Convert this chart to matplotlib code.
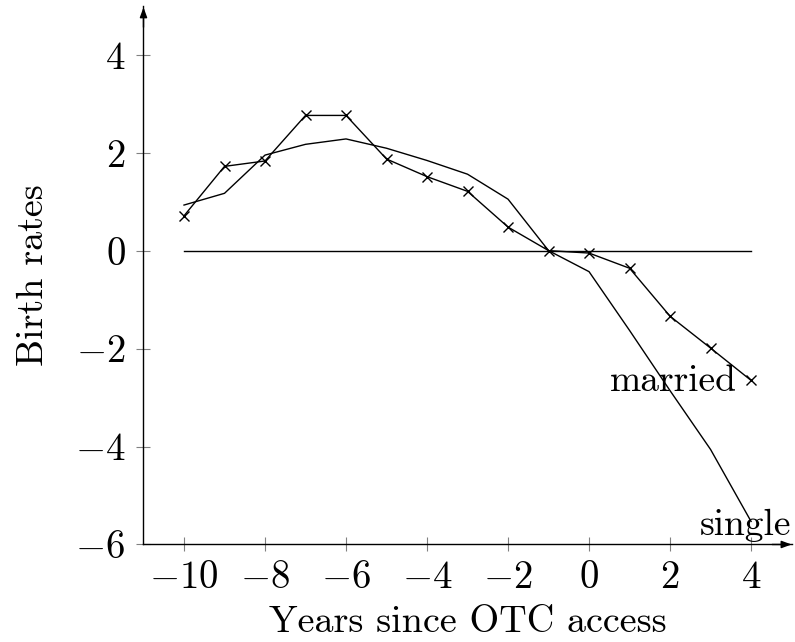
import matplotlib
matplotlib.use("Agg")
import matplotlib.pyplot as plt

plt.rcParams['font.family'] = 'serif'
plt.rcParams['font.serif'] = ['cmr10']
plt.rcParams['mathtext.fontset'] = 'cm'
plt.rcParams['axes.formatter.use_mathtext'] = True

# values
years = [-10, -9, -8, -7, -6, -5, -4, -3, -2, -1, 0, 1, 2, 3, 4]
married = [0.71, 1.72, 1.83, 2.76, 2.76, 1.87, 1.51, 1.21, 0.48, 0.0,
           -0.05, -0.36, -1.34, -1.99, -2.65]
single = [0.93, 1.17, 1.95, 2.17, 2.28, 2.09, 1.84, 1.56, 1.05, 0.0,
          -0.43, -1.63, -2.86, -4.06, -5.53]
xticks = [-10, -8, -6, -4, -2, 0, 2, 4]
yticks = [-6, -4, -2, 0, 2, 4]

fig = plt.figure(figsize=(7.95, 6.42), dpi=100)
ax = fig.add_axes([0.1805, 0.1519, 0.8152, 0.8392])

ax.plot([years[0], years[-1]], [0, 0], color='black', lw=1.0)
ax.plot(years, married, color='black', lw=1.0, marker='x', ms=7, mew=1.0)
ax.plot(years, single, color='black', lw=1.0)

ax.annotate('married', (years[-1], married[-1]), xytext=(-10, -1),
            textcoords='offset points', ha='right', va='center', fontsize=27)
ax.annotate('single', (years[-1], single[-1]), xytext=(-4, -3),
            textcoords='offset points', ha='center', va='center', fontsize=27,
            annotation_clip=False)

ax.set_xlim(-11, 5)
ax.set_ylim(-6, 5)
ax.set_xticks(xticks)
ax.set_yticks(yticks)
ax.tick_params(direction='inout', length=10, width=0.8, color='gray',
               labelsize=28, pad=6)
ax.tick_params(axis='y', pad=8)

for s in ['top', 'right']:
    ax.spines[s].set_visible(False)
for s in ['left', 'bottom']:
    ax.spines[s].set_linewidth(1.0)

# arrow heads at the axis ends
arrow = dict(arrowstyle='-|>,head_length=0.6,head_width=0.22', color='black',
             lw=1.0, shrinkA=0, shrinkB=0)
ax.annotate('', xy=(1.0, 0), xytext=(0.97, 0), xycoords='axes fraction',
            arrowprops=arrow, annotation_clip=False)
ax.annotate('', xy=(0, 0.997), xytext=(0, 0.96), xycoords='axes fraction',
            arrowprops=arrow, annotation_clip=False)

ax.set_xlabel('Years since OTC access', fontsize=27.5, labelpad=7)
ax.set_ylabel('Birth rates', fontsize=27.5, labelpad=18)

fig.savefig('out.png', dpi=100)
